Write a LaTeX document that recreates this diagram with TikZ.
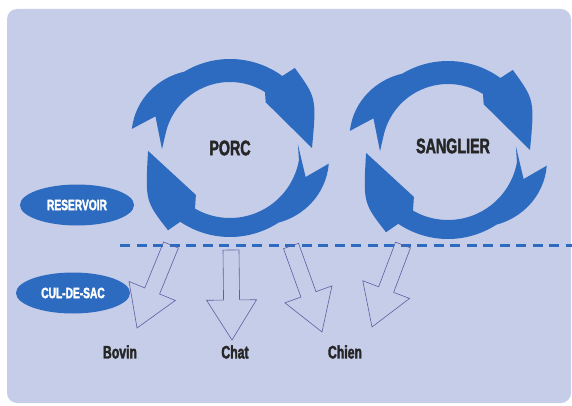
\documentclass[tikz,border=0pt]{standalone}
\usepackage{fontspec}
\newfontfamily\condfont{Liberation Sans}[FakeStretch=0.68, FakeBold=2]
\usepackage{tikz}
\usetikzlibrary{shapes.geometric,calc}
\definecolor{panel}{HTML}{C6CDE8}
\definecolor{ringblue}{HTML}{2C6BC0}
\definecolor{outline}{HTML}{5B5FA3}

% hollow block arrow from one named point to another
\newcommand{\hollowarrow}[2]{%
  \draw[hollow] let \p1=($(#2)-(#1)$), \n1={atan2(\y1,\x1)}, \n2={veclen(\x1,\y1)} in
    [shift={(#1)}, rotate=\n1]
    (0pt,-8pt) -- (\n2-40pt,-8pt) -- (\n2-40pt,-25pt) -- (\n2,0pt)
    -- (\n2-40pt,25pt) -- (\n2-40pt,8pt) -- (0pt,8pt) -- cycle;}

\begin{document}
\begin{tikzpicture}[
  x=1pt,
  y=1pt,
  ring/.style={fill=ringblue},
  oval/.style={ellipse, fill=ringblue, text=white, minimum width=114, minimum height=41, inner sep=0pt,
    font=\condfont\bfseries\fontsize{15}{15}\selectfont},
  title/.style={text=black!85, font=\condfont\bfseries\fontsize{21}{21}\selectfont},
  host/.style={text=black!85, font=\condfont\bfseries\fontsize{18}{18}\selectfont},
  hollow/.style={draw=outline, line width=0.6pt},
  boundary/.style={ringblue, line width=3pt, dash pattern=on 10pt off 6.5pt},
  pics/cyclearrow/.style={code={
    \fill[ring] (169:100) .. controls (152:107) and (135:100) .. (121:89)
      arc[start angle=121, end angle=54, radius=89]
      -- (51:103) .. controls (30:100) .. (0:82)
      -- (52:58) -- (58:#1)
      arc[start angle=58, end angle=168, radius=#1]
      -- (181:68) -- (157:81) -- cycle;
  }},
]

\useasboundingbox (0,0) rectangle (572,405);
\fill[panel, rounded corners=10pt] (7,2) rectangle (571,396);

% Rings
\coordinate (porcmid) at (230,257);
\coordinate (sangmid) at (448,255);
\pic at (porcmid) {cyclearrow=66};
\pic[rotate=182] at (porcmid) {cyclearrow=70};
\pic at (sangmid) {cyclearrow=66};
\pic[rotate=182] at (sangmid) {cyclearrow=70};

\node[title] (porc) at (230,257) {PORC};
\node[title] (sanglier) at (453,259) {SANGLIER};

% Left labels
\node[oval] (reservoir) at (77,200) {RESERVOIR};
\node[oval] (culdesac) at (73,112) {CUL-DE-SAC};

% Boundary line
\coordinate (lineleft) at (120,160);
\coordinate (lineright) at (572,160);
\draw[boundary] (lineleft) -- (lineright);

% Spill-over arrows
\coordinate (bovintail) at (171,160);
\coordinate (bovintip) at (137,77);
\coordinate (chattail) at (231,155);
\coordinate (chattip) at (232,65);
\coordinate (chientail) at (291,159);
\coordinate (chientip) at (322,73);
\coordinate (sangtail) at (403,160);
\coordinate (sangtip) at (372,78);
\hollowarrow{bovintail}{bovintip}
\hollowarrow{chattail}{chattip}
\hollowarrow{chientail}{chientip}
\hollowarrow{sangtail}{sangtip}

% Dead-end hosts
\node[host] (bovin) at (120,53) {Bovin};
\node[host] (chat) at (235,53) {Chat};
\node[host] (chien) at (345,53) {Chien};

\end{tikzpicture}
\end{document}
